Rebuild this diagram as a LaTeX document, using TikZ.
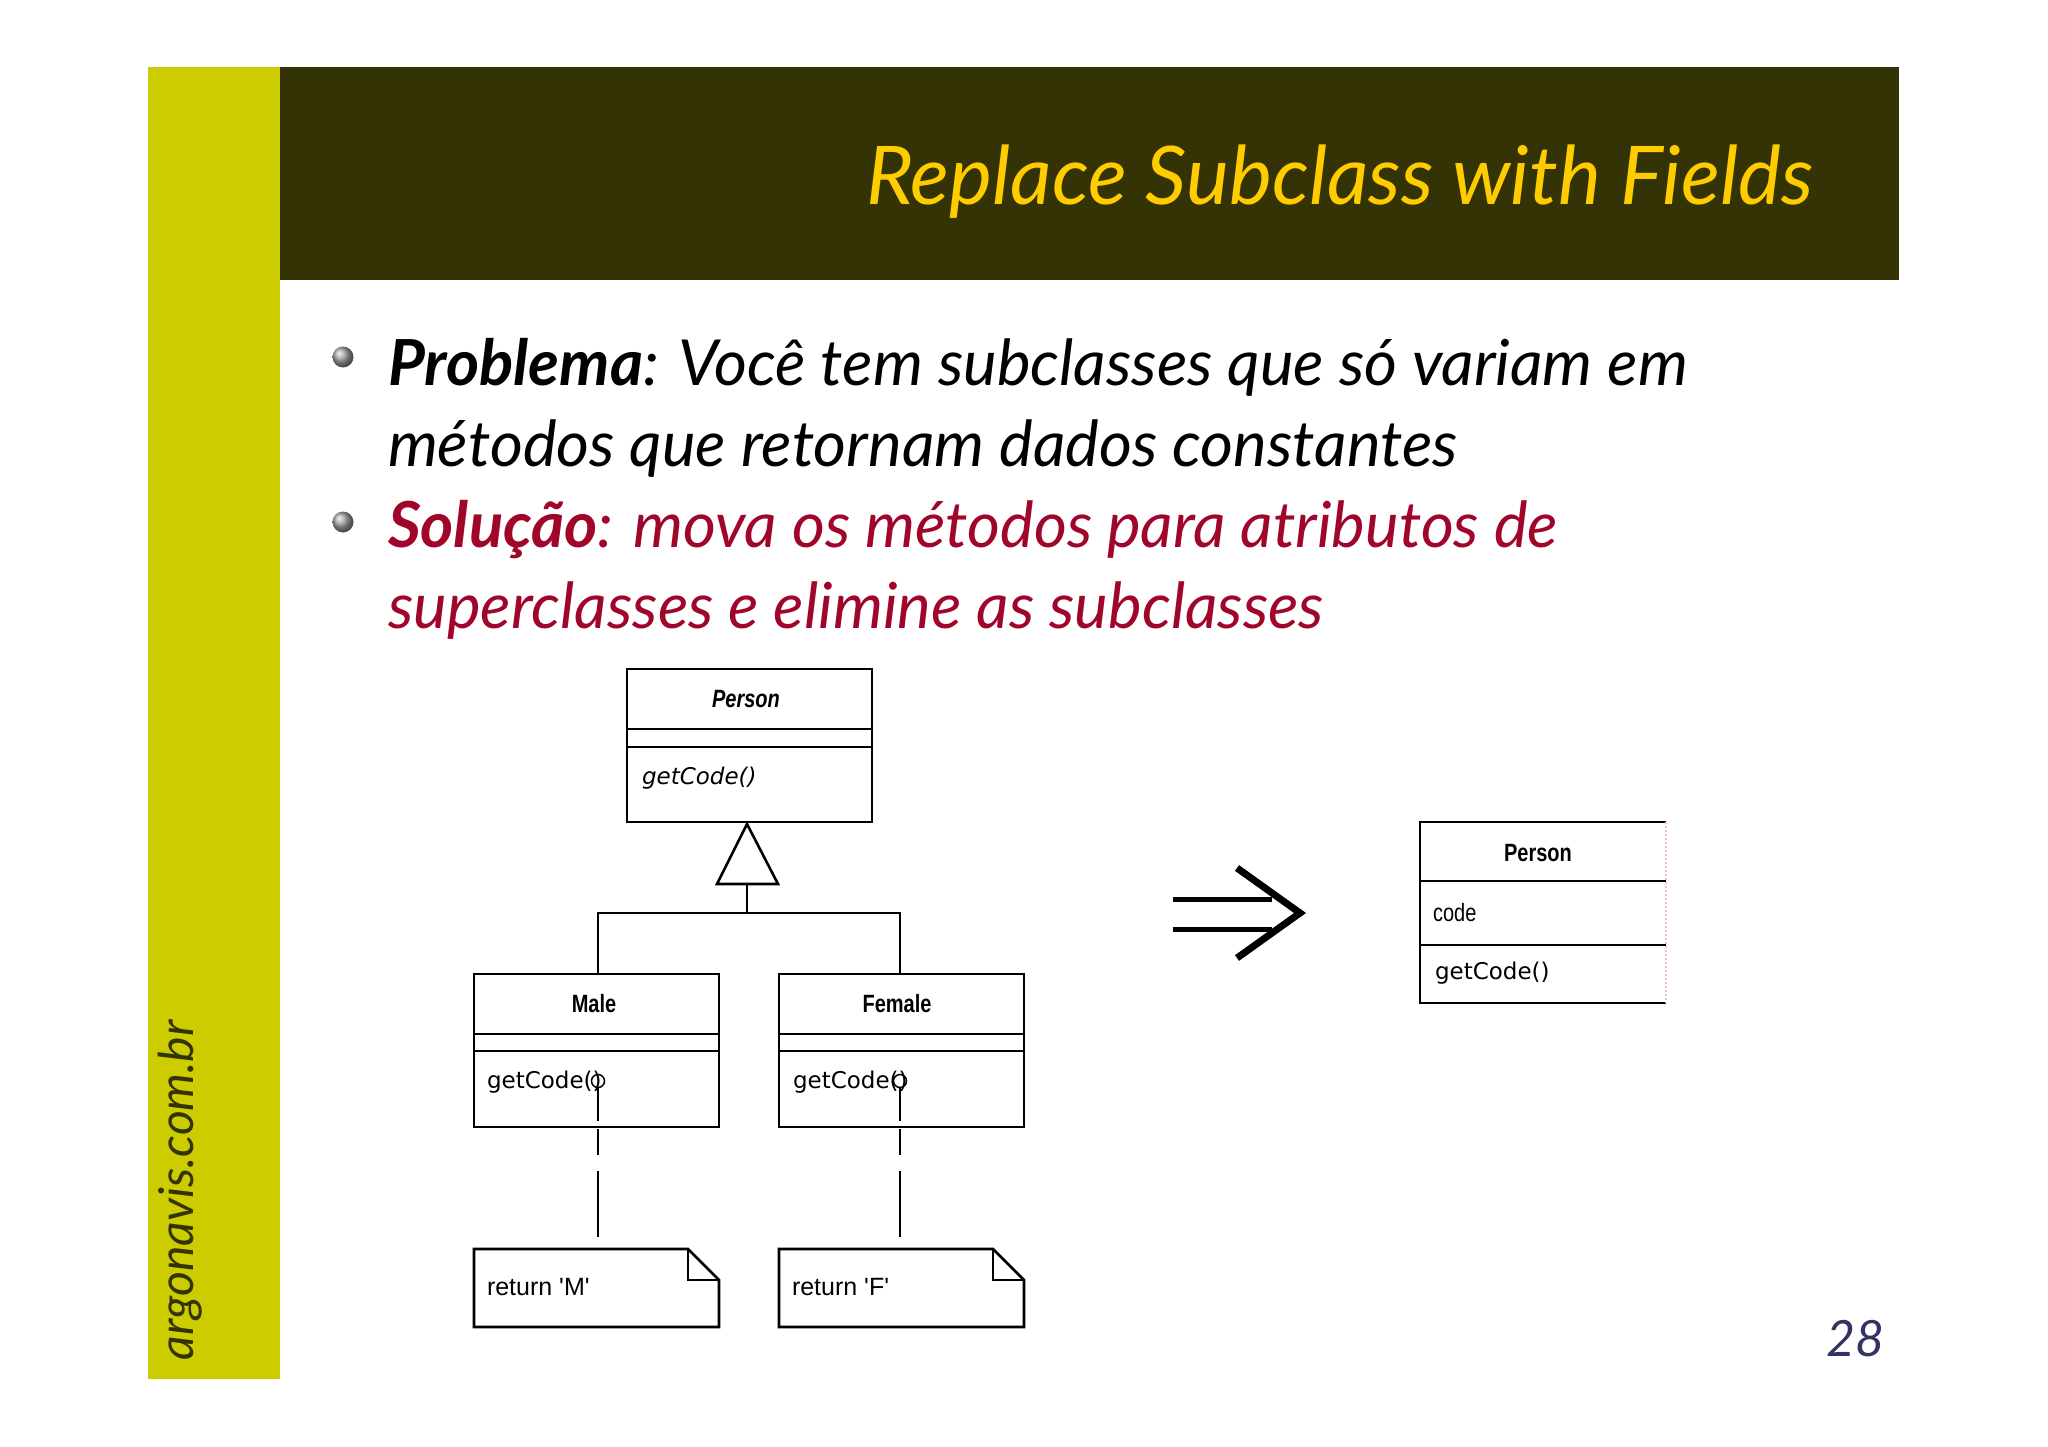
\documentclass[tikz,border=0pt]{standalone}
\usepackage{fontspec}
\setmainfont{Lato}
\newfontfamily\umlcond[FakeStretch=0.8]{Liberation Sans}
\newfontfamily\umlreg{DejaVu Sans}
\newfontfamily\umlnote{Liberation Sans}
\usetikzlibrary{shapes.geometric}
\definecolor{barcol}{HTML}{CCCC00}
\definecolor{headcol}{HTML}{333305}
\definecolor{titlecol}{HTML}{FFCC00}
\definecolor{redtxt}{HTML}{A0062A}
\definecolor{navy}{HTML}{333366}
\definecolor{pinkline}{HTML}{F2C4D4}
\tikzset{
  umlline/.style={line width=2.6pt, draw=black},
  umlbox/.style={umlline, rectangle, inner sep=0pt},
  txt/.style={inner sep=0pt, outer sep=0pt},
  bodyline/.style={txt, anchor=base west, font=\fontsize{63.5}{76}\selectfont\itshape},
  umlname/.style={txt, font=\umlcond\fontsize{25}{28}\selectfont\bfseries},
  umlop/.style={txt, anchor=west, font=\umlreg\fontsize{23}{26}\selectfont},
  notetxt/.style={txt, anchor=west, font=\umlnote\fontsize{25}{28}\selectfont},
  notelink/.style={line width=2.6pt, dash pattern=on 33pt off 8pt on 26pt off 16pt on 66pt off 30pt},
  bigarrow/.style={line width=5pt, line cap=butt},
  bulletball/.style={circle, minimum size=21pt, inner sep=0pt, shading=ball, ball color=gray!70},
}
\begin{document}
\begin{tikzpicture}[x=1pt,y=-1pt]
\useasboundingbox (0,0) rectangle (2048,1447);
\fill[white] (0,0) rectangle (2048,1447);
% side bar and header
\fill[barcol] (148,67) rectangle (280,1379);
\fill[headcol] (280,67) rectangle (1899,280);
\node[txt, anchor=base east, text=titlecol, font=\fontsize{81}{96}\selectfont\itshape] (title) at (1813,205) {Replace Subclass with Fields};
\node[txt, anchor=base west, rotate=90, text=headcol, font=\fontsize{48}{52}\selectfont\itshape] (site) at (193,1360) {argonavis.com.br};
\node[txt, anchor=base east, text=navy, font=\fontsize{50}{56}\selectfont\itshape] (pagenum) at (1884,1356) {28};
% bullets
\node[bulletball] (b1) at (343,357) {};
\node[bulletball] (b2) at (343,522) {};
\node[bodyline] (l1) at (388,385) {\textbf{Problema}: Você tem subclasses que só variam em};
\node[bodyline] (l2) at (388,466) {métodos que retornam dados constantes};
\node[bodyline, text=redtxt] (l3) at (388,547) {\textbf{Solução}: mova os métodos para atributos de};
\node[bodyline, text=redtxt] (l4) at (388,628) {superclasses e elimine as subclasses};
% ---------- left UML ----------
\node[umlbox, minimum width=245pt, minimum height=153pt] (person) at (749.5,745.5) {};
\draw[umlline] (627,729) -- (872,729);
\draw[umlline] (627,747) -- (872,747);
\node[umlname, font=\umlcond\fontsize{25}{28}\selectfont\bfseries\itshape] (personname) at (746,699) {Person};
\node[umlop, font=\umlreg\fontsize{23}{26}\selectfont\itshape] (personop) at (642,778) {getCode()};
\node[umlbox, minimum width=245pt, minimum height=153pt] (male) at (596.5,1050.5) {};
\draw[umlline] (474,1034) -- (719,1034);
\draw[umlline] (474,1051) -- (719,1051);
\node[umlname] (malename) at (594,1004) {Male};
\node[umlop] (maleop) at (487,1082) {getCode()};
\node[umlbox, minimum width=245pt, minimum height=153pt] (female) at (901.5,1050.5) {};
\draw[umlline] (779,1034) -- (1024,1034);
\draw[umlline] (779,1051) -- (1024,1051);
\node[umlname] (femalename) at (897,1004) {Female};
\node[umlop] (femaleop) at (793,1082) {getCode()};
% inheritance
\coordinate (apex) at (747,824);
\coordinate (stem) at (747,884);
\coordinate (join) at (747,913);
\draw[umlline, line join=miter, fill=white] (apex) -- (717,884) -- (778,884) -- cycle;
\draw[umlline] (stem) -- (join);
\draw[umlline] (join) -| (598,974);
\draw[umlline] (join) -| (900,974);
% notes
\draw[umlline, line join=miter] (474,1249) -- (688,1249) -- (719,1280) -- (719,1327) -- (474,1327) -- cycle;
\draw[umlline, line join=miter] (688,1249) -- (688,1280) -- (719,1280);
\node[notetxt] (mnotetxt) at (487,1287) {return 'M'};
\draw[umlline, line join=miter] (779,1249) -- (993,1249) -- (1024,1280) -- (1024,1327) -- (779,1327) -- cycle;
\draw[umlline, line join=miter] (993,1249) -- (993,1280) -- (1024,1280);
\node[notetxt] (fnotetxt) at (792,1287) {return 'F'};
% note anchors
\node[circle, draw, line width=1.5pt, minimum size=13pt, inner sep=0pt] (mcirc) at (598,1081) {};
\node[circle, draw, line width=1.5pt, minimum size=13pt, inner sep=0pt] (fcirc) at (900,1081) {};
\coordinate (mend) at (598,1249);
\coordinate (fend) at (900,1249);
\draw[notelink] (mcirc.south) -- (mend);
\draw[notelink] (fcirc.south) -- (fend);
% big arrow
\draw[bigarrow] (1173,899) -- (1272,899);
\draw[bigarrow] (1173,929) -- (1272,929);
\draw[bigarrow, line width=7pt, line join=miter] (1237,868) -- (1300,913) -- (1237,958);
% ---------- right UML ----------
\draw[umlline] (1666,822) -- (1420,822) -- (1420,1003) -- (1666,1003);
\draw[umlline] (1420,881) -- (1666,881);
\draw[umlline] (1420,945) -- (1666,945);
\draw[pinkline, line width=2pt, dotted] (1666,822) -- (1666,1003);
\node[umlname] (rperson) at (1538,853) {Person};
\node[txt, anchor=west, font=\umlcond\fontsize{25}{28}\selectfont] (rcode) at (1433,913) {code};
\node[umlop] (rop) at (1435,973) {getCode()};
\end{tikzpicture}
\end{document}
